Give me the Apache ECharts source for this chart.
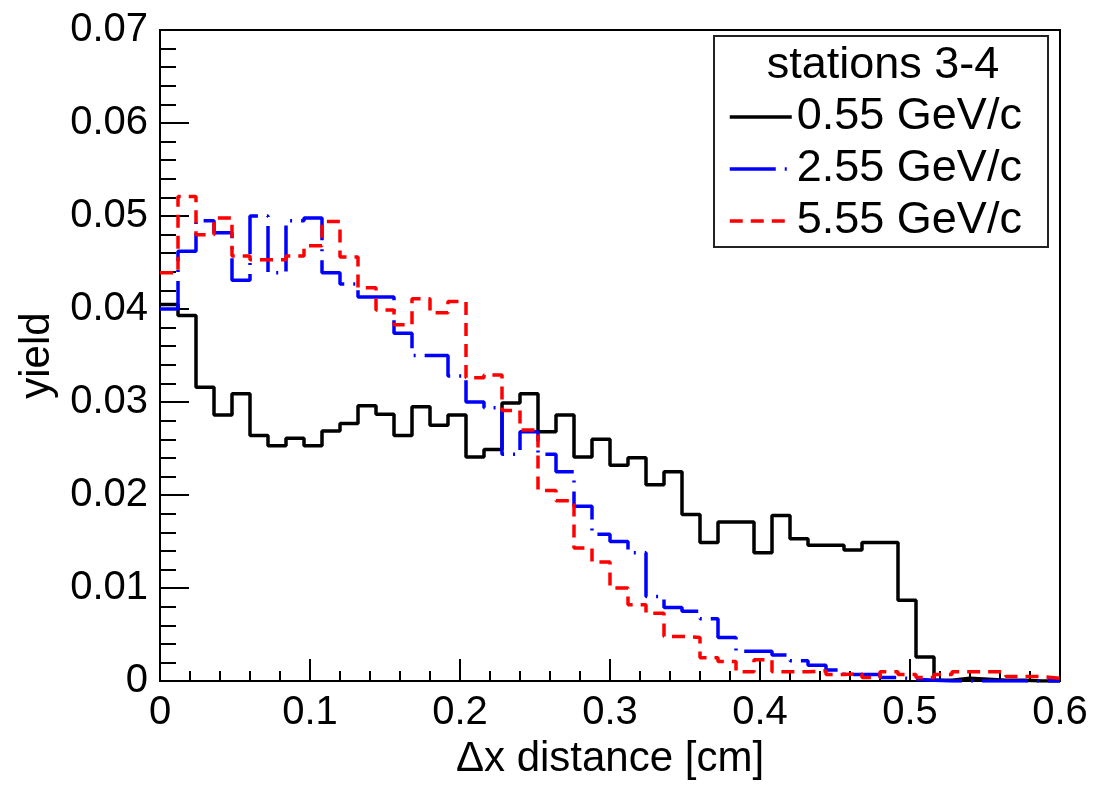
<!DOCTYPE html>
<html>
<head>
<meta charset="utf-8">
<title>Δx distance, stations 3-4</title>
<script src="https://cdn.jsdelivr.net/npm/echarts@6/dist/echarts.min.js"></script>
<style>
  html, body { margin: 0; padding: 0; background: #ffffff; }
  #chart { width: 1094px; height: 785px; }
</style>
</head>
<body>
<div id="chart"></div>
<script>
// Histogram binning along Δx [cm]: 50 bins of 0.012 cm from 0 to 0.6
const binStart = 0;
const binWidth = 0.012;
const binCount = 50;

// Normalised yield per bin
const yield055 = [
  0.0405, 0.0393, 0.0316, 0.0286, 0.0309, 0.0264, 0.0253, 0.0261, 0.0253, 0.0269,
  0.0277, 0.0296, 0.0287, 0.0264, 0.0295, 0.0275, 0.0286, 0.0241, 0.0249, 0.0299,
  0.0309, 0.0268, 0.0286, 0.0241, 0.0260, 0.0232, 0.0240, 0.0211, 0.0225, 0.0179,
  0.0149, 0.0171, 0.0171, 0.0138, 0.0178, 0.0153, 0.0146, 0.0146, 0.0141, 0.0149,
  0.0149, 0.0087, 0.0026, 0.0001, 0.0003, 0.0002, 0.0001, 0.0001, 0.0000, 0.0000
];
const yield255 = [
  0.0400, 0.0462, 0.0495, 0.0482, 0.0431, 0.0500, 0.0439, 0.0495, 0.0498, 0.0439,
  0.0427, 0.0413, 0.0413, 0.0374, 0.0350, 0.0350, 0.0328, 0.0300, 0.0294, 0.0244,
  0.0268, 0.0244, 0.0225, 0.0188, 0.0158, 0.0150, 0.0138, 0.0091, 0.0079, 0.0075,
  0.0067, 0.0047, 0.0032, 0.0032, 0.0028, 0.0022, 0.0017, 0.0012, 0.0007, 0.0007,
  0.0004, 0.0002, 0.0001, 0.0000, 0.0000, 0.0000, 0.0000, 0.0000, 0.0000, 0.0000
];
const yield555 = [
  0.0439, 0.0521, 0.0480, 0.0498, 0.0457, 0.0453, 0.0453, 0.0457, 0.0468, 0.0494,
  0.0456, 0.0423, 0.0399, 0.0383, 0.0411, 0.0396, 0.0408, 0.0326, 0.0329, 0.0291,
  0.0270, 0.0205, 0.0194, 0.0143, 0.0128, 0.0100, 0.0082, 0.0073, 0.0048, 0.0047,
  0.0025, 0.0021, 0.0010, 0.0023, 0.0010, 0.0010, 0.0011, 0.0007, 0.0008, 0.0004,
  0.0010, 0.0007, 0.0004, 0.0007, 0.0010, 0.0010, 0.0010, 0.0005, 0.0005, 0.0003
];

const seriesNames = ['0.55 GeV/c', '2.55 GeV/c', '5.55 GeV/c'];
const legendTitle = 'stations 3-4';
const xTitle = 'Δx distance [cm]';
const yTitle = 'yield';

// Step outline: one point per lower bin edge, plus the upper edge of the last bin
function histPoints(values) {
  const pts = [];
  for (let i = 0; i < binCount; i++) {
    pts.push([+(binStart + i * binWidth).toFixed(4), values[i]]);
  }
  pts.push([+(binStart + binCount * binWidth).toFixed(4), values[binCount - 1]]);
  return pts;
}

const FONT = '"Liberation Sans", Arial, Helvetica, sans-serif';
const LINE_W = 3.5;

const chart = echarts.init(document.getElementById('chart'), null, { renderer: 'canvas' });

const option = {
  backgroundColor: '#ffffff',
  animation: false,
  grid: {
    left: 160, right: 34, top: 30, bottom: 102,
    show: true, borderColor: '#000000', borderWidth: 2,
    backgroundColor: 'transparent'
  },
  xAxis: {
    type: 'value', min: 0, max: 0.6, interval: 0.1,
    name: xTitle, nameLocation: 'middle', nameGap: 48,
    nameTextStyle: { fontFamily: FONT, fontSize: 42, color: '#000' },
    axisLine: { lineStyle: { color: '#000', width: 2 } },
    axisTick: { inside: true, length: 22, lineStyle: { color: '#000', width: 2 } },
    minorTick: { show: true, splitNumber: 5, length: 10, lineStyle: { color: '#000', width: 2 } },
    splitLine: { show: false },
    axisLabel: { fontFamily: FONT, fontSize: 40, color: '#000', margin: 12 }
  },
  yAxis: {
    type: 'value', min: 0, max: 0.07, interval: 0.01,
    name: yTitle, nameLocation: 'middle', nameGap: 102, nameRotate: 90,
    nameTextStyle: { fontFamily: FONT, fontSize: 42, color: '#000' },
    axisLine: { lineStyle: { color: '#000', width: 2 } },
    axisTick: { inside: true, length: 29, lineStyle: { color: '#000', width: 2 } },
    minorTick: { show: true, splitNumber: 5, length: 16, lineStyle: { color: '#000', width: 2 } },
    splitLine: { show: false },
    axisLabel: { fontFamily: FONT, fontSize: 40, color: '#000', margin: 12 }
  },
  legend: {
    orient: 'vertical', left: 728, top: 94, padding: 0,
    itemWidth: 62, itemHeight: 14, itemGap: 6,
    itemStyle: { opacity: 0 },
    lineStyle: { width: LINE_W },
    textStyle: { fontFamily: FONT, fontSize: 45, color: '#000', lineHeight: 46 },
    data: seriesNames
  },
  graphic: [
    {
      type: 'rect', shape: { x: 714, y: 36, width: 334, height: 211 },
      style: { fill: '#ffffff', stroke: '#222222', lineWidth: 2 }, z: 0
    },
    {
      type: 'text', x: 883, y: 66,
      style: {
        text: legendTitle, font: '45px ' + FONT, fill: '#000',
        textAlign: 'center', textVerticalAlign: 'middle'
      }, z: 1
    }
  ],
  series: [
    {
      name: seriesNames[0], type: 'line', step: 'end', showSymbol: false, symbol: 'none',
      data: histPoints(yield055), z: 3,
      lineStyle: { color: '#000000', width: LINE_W }, itemStyle: { color: '#000000' }
    },
    {
      name: seriesNames[1], type: 'line', step: 'end', showSymbol: false, symbol: 'none',
      data: histPoints(yield255), z: 4,
      lineStyle: { color: '#0000ff', width: LINE_W, type: [46, 9, 2, 9] }, itemStyle: { color: '#0000ff' }
    },
    {
      name: seriesNames[2], type: 'line', step: 'end', showSymbol: false, symbol: 'none',
      data: histPoints(yield555), z: 5,
      lineStyle: { color: '#ff0000', width: LINE_W, type: [13, 8] }, itemStyle: { color: '#ff0000' }
    }
  ]
};

chart.setOption(option);
</script>
</body>
</html>
